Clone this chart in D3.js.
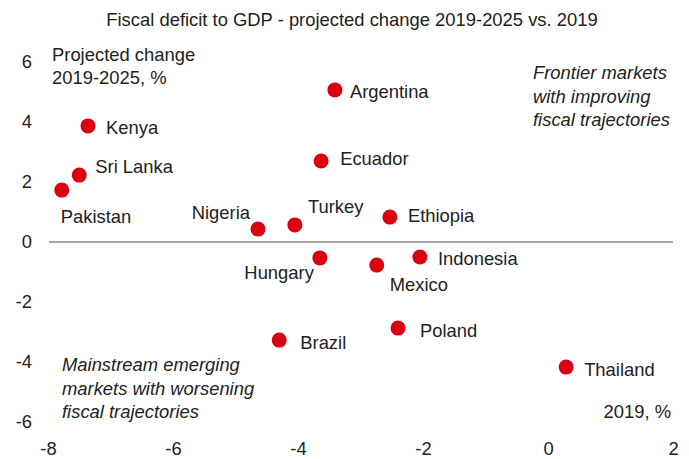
<!DOCTYPE html>
<html>
<head>
<meta charset="utf-8">
<script src="https://cdn.jsdelivr.net/npm/d3@7"></script>
<style>
  body { margin: 0; background: #fff; }
  text { font-family: "Liberation Sans", Arial, sans-serif; fill: #222; }
</style>
</head>
<body>
<script>
// Data
const countries = ["Argentina", "Kenya", "Sri Lanka", "Pakistan", "Ecuador", "Nigeria", "Turkey",
  "Ethiopia", "Hungary", "Mexico", "Indonesia", "Brazil", "Poland", "Thailand"];
const deficit2019 = [-3.41, -7.36, -7.5, -7.78, -3.63, -4.64, -4.05, -2.53, -3.65, -2.74, -2.05, -4.3, -2.4, 0.29];
const projectedChange = [5.07, 3.87, 2.23, 1.73, 2.7, 0.43, 0.57, 0.83, -0.53, -0.77, -0.5, -3.27, -2.87, -4.17];
const xTicks = [-8, -6, -4, -2, 0, 2];
const yTicks = [-6, -4, -2, 0, 2, 4, 6];

// label placement relative to each dot
const labelOffset = {
  "Argentina": [15, 2], "Kenya": [18, 2], "Sri Lanka": [16, -9], "Pakistan": [-1, 26],
  "Ecuador": [19, -2], "Nigeria": [-8, -17], "Turkey": [13, -18], "Ethiopia": [18, -2],
  "Hungary": [-6, 15], "Mexico": [13, 19], "Indonesia": [18, 2], "Brazil": [21, 2],
  "Poland": [22, 2], "Thailand": [18, 2]
};
const anchorEnd = new Set(["Nigeria", "Hungary"]);

const width = 689, height = 459;
const fs = 18.4;
const x = d3.scaleLinear().domain([-8, 2]).range([48, 673]);
const y = d3.scaleLinear().domain([-6, 6]).range([422, 62]);

const svg = d3.select("body").append("svg")
  .attr("width", width).attr("height", height);

// Title
svg.append("text")
  .attr("x", 352).attr("y", 26)
  .attr("text-anchor", "middle").attr("font-size", fs)
  .text("Fiscal deficit to GDP - projected change 2019-2025 vs. 2019");

// Zero line
svg.append("line")
  .attr("x1", x(-8) + 1).attr("x2", x(2))
  .attr("y1", y(0)).attr("y2", y(0))
  .attr("stroke", "#888").attr("stroke-width", 1.3);

// X tick labels
svg.append("g")
  .attr("transform", `translate(0,455)`)
  .call(d3.axisBottom(x).tickValues(xTicks).tickFormat(d => String(d)).tickSize(0).tickPadding(0))
  .call(g => g.select(".domain").remove())
  .call(g => g.selectAll("text").attr("font-size", fs).attr("dy", 0).attr("fill", "#222")
    .style("font-family", "Liberation Sans, Arial, sans-serif"));

// Y tick labels
svg.append("g")
  .attr("transform", "translate(32,0)")
  .call(d3.axisLeft(y).tickValues(yTicks).tickFormat(d => String(d)).tickSize(0).tickPadding(0))
  .call(g => g.select(".domain").remove())
  .call(g => g.selectAll("text").attr("font-size", fs).attr("fill", "#222")
    .style("font-family", "Liberation Sans, Arial, sans-serif"));

// Axis titles
svg.append("text").attr("x", 52).attr("y", 61).attr("font-size", fs).text("Projected change");
svg.append("text").attr("x", 52).attr("y", 84).attr("font-size", fs).text("2019-2025, %");
svg.append("text").attr("x", 671).attr("y", 418).attr("text-anchor", "end")
  .attr("font-size", fs).text("2019, %");

// Italic annotations
const noteTop = ["Frontier markets", "with improving", "fiscal trajectories"];
const noteBottom = ["Mainstream emerging", "markets with worsening", "fiscal trajectories"];
svg.append("g").selectAll("text").data(noteTop).join("text")
  .attr("x", 533).attr("y", (d, i) => 79 + i * 23.5)
  .attr("font-size", fs).attr("font-style", "italic").text(d => d);
svg.append("g").selectAll("text").data(noteBottom).join("text")
  .attr("x", 62).attr("y", (d, i) => 371 + i * 23.5)
  .attr("font-size", fs).attr("font-style", "italic").text(d => d);

// Points
const pts = countries.map((c, i) => ({ name: c, x: deficit2019[i], y: projectedChange[i] }));

svg.append("g").selectAll("circle").data(pts).join("circle")
  .attr("cx", d => x(d.x)).attr("cy", d => y(d.y))
  .attr("r", 7.5).attr("fill", "#db0011");

svg.append("g").selectAll("text").data(pts).join("text")
  .attr("x", d => x(d.x) + labelOffset[d.name][0])
  .attr("y", d => y(d.y) + labelOffset[d.name][1])
  .attr("dy", "0.35em")
  .attr("text-anchor", d => anchorEnd.has(d.name) ? "end" : "start")
  .attr("font-size", fs)
  .text(d => d.name);
</script>
</body>
</html>
